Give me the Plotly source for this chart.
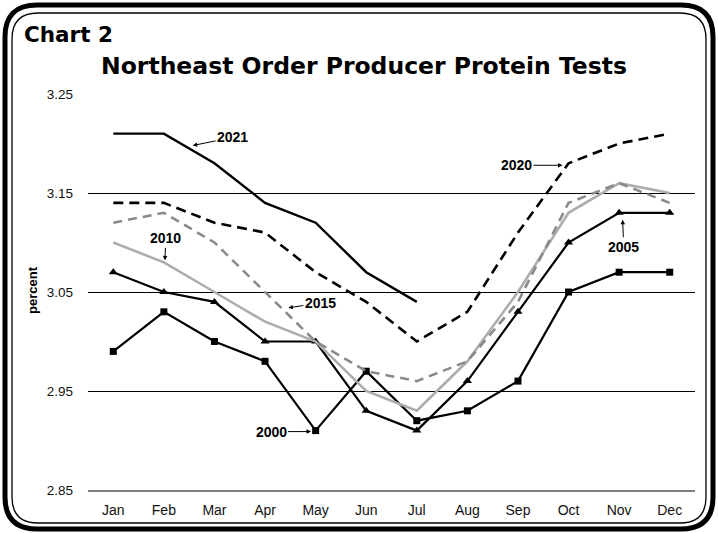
import plotly.graph_objects as go

# ----------- Data -----------
months = ["Jan", "Feb", "Mar", "Apr", "May", "Jun", "Jul", "Aug", "Sep", "Oct", "Nov", "Dec"]

y2021 = [3.21, 3.21, 3.18, 3.14, 3.12, 3.07, 3.04]
y2020 = [3.14, 3.14, 3.12, 3.11, 3.07, 3.04, 3.00, 3.03, 3.11, 3.18, 3.20, 3.21]
y2015 = [3.12, 3.13, 3.10, 3.05, 3.00, 2.97, 2.96, 2.98, 3.04, 3.14, 3.16, 3.14]
y2010 = [3.10, 3.08, 3.05, 3.02, 3.00, 2.95, 2.93, 2.98, 3.05, 3.13, 3.16, 3.15]
y2005 = [3.07, 3.05, 3.04, 3.00, 3.00, 2.93, 2.91, 2.96, 3.03, 3.10, 3.13, 3.13]
y2000 = [2.99, 3.03, 3.00, 2.98, 2.91, 2.97, 2.92, 2.93, 2.96, 3.05, 3.07, 3.07]

y_ticks = [2.85, 2.95, 3.05, 3.15, 3.25]

# ----------- Layout geometry (pixels) -----------
W, H = 718, 533
L, R, T, B = 88, 23, 94, 43
PW, PH = W - L - R, H - T - B

LABEL_FONT = "Liberation Sans, Arial"
TITLE_FONT = "DejaVu Sans"


def to_paper(px, py):
    return (px - L) / PW, (H - B - py) / PH


def rounded_rect(x0, y0, x1, y1, r):
    pts = [
        ("M", [(x0 + r, y0)]),
        ("L", [(x1 - r, y0)]),
        ("Q", [(x1, y0), (x1, y0 + r)]),
        ("L", [(x1, y1 - r)]),
        ("Q", [(x1, y1), (x1 - r, y1)]),
        ("L", [(x0 + r, y1)]),
        ("Q", [(x0, y1), (x0, y1 - r)]),
        ("L", [(x0, y0 + r)]),
        ("Q", [(x0, y0), (x0 + r, y0)]),
    ]
    out = []
    for cmd, ps in pts:
        coords = " ".join("%.5f,%.5f" % to_paper(px, py) for px, py in ps)
        out.append(cmd + coords)
    return " ".join(out) + " Z"


fig = go.Figure()

# ----------- Series -----------
fig.add_trace(go.Scatter(x=months, y=y2000, mode="lines+markers", name="2000",
                         line=dict(color="black", width=2.2),
                         marker=dict(symbol="square", size=7, color="black")))
fig.add_trace(go.Scatter(x=months, y=y2005, mode="lines+markers", name="2005",
                         line=dict(color="black", width=2.2),
                         marker=dict(symbol="triangle-up", size=8, color="black")))
fig.add_trace(go.Scatter(x=months, y=y2010, mode="lines", name="2010",
                         line=dict(color="#adadad", width=2.6)))
fig.add_trace(go.Scatter(x=months, y=y2015, mode="lines", name="2015",
                         line=dict(color="#8a8a8a", width=2.6, dash="9px,6px")))
fig.add_trace(go.Scatter(x=months, y=y2020, mode="lines", name="2020",
                         line=dict(color="black", width=2.6, dash="10px,6px")))
fig.add_trace(go.Scatter(x=months[:len(y2021)], y=y2021, mode="lines", name="2021",
                         line=dict(color="black", width=2.4)))

# ----------- Labels with arrows -----------
labels = [
    ("2021", 1.57, 3.198, 40, -8),
    ("2010", 1.02, 3.082, 1, -22),
    ("2015", 3.46, 3.034, 32, -5),
    ("2000", 3.91, 2.909, -40, 0),
    ("2020", 8.88, 3.178, -46, 0),
    ("2005", 10.07, 3.123, 1, 27),
]
for txt, xi, yv, ax, ay in labels:
    fig.add_annotation(x=xi, y=yv, xref="x", yref="y", text="<b>%s</b>" % txt,
                       showarrow=True, ax=ax, ay=ay, arrowhead=2, arrowsize=0.9,
                       arrowwidth=1, arrowcolor="black",
                       font=dict(family=LABEL_FONT, size=14, color="black"))

# ----------- Titles -----------
fig.add_annotation(text="<b>Chart 2</b>", xref="paper", yref="paper",
                   x=to_paper(22, 0)[0], y=to_paper(0, 35)[1], xanchor="left", yanchor="middle",
                   showarrow=False, font=dict(family=TITLE_FONT, size=21.5, color="black"))
fig.add_annotation(text="<b>Northeast Order Producer Protein Tests</b>", xref="paper", yref="paper",
                   x=to_paper(364, 0)[0], y=to_paper(0, 66)[1], xanchor="center", yanchor="middle",
                   showarrow=False, font=dict(family=TITLE_FONT, size=23.5, color="black"))
fig.add_annotation(text="<b>percent</b>", xref="paper", yref="paper",
                   x=to_paper(32, 0)[0], y=to_paper(0, 290)[1], textangle=-90,
                   xanchor="center", yanchor="middle",
                   showarrow=False, font=dict(family=LABEL_FONT, size=13, color="black"))

# ----------- Frame -----------
fig.add_shape(type="path", xref="paper", yref="paper",
              path=rounded_rect(5, 5, 713, 529, 32), line=dict(color="black", width=5))
fig.add_shape(type="path", xref="paper", yref="paper",
              path=rounded_rect(12, 13, 706, 523, 26), line=dict(color="black", width=1.3))

fig.update_xaxes(type="category", range=[-0.5, 11.5], showgrid=False,
                 showline=True, linecolor="#7f7f7f", linewidth=2, ticks="",
                 ticklabelstandoff=6,
                 tickfont=dict(family=LABEL_FONT, size=14, color="#111"))
fig.update_yaxes(range=[2.85, 3.25], tickvals=y_ticks, tickformat=".2f",
                 showgrid=True, gridcolor="black", gridwidth=1, zeroline=False,
                 showline=False, ticks="", ticklabelstandoff=14,
                 tickfont=dict(family=LABEL_FONT, size=13.5, color="#111"))

fig.update_layout(width=W, height=H, showlegend=False,
                  margin=dict(l=L, r=R, t=T, b=B),
                  plot_bgcolor="white", paper_bgcolor="white")

fig.write_html("out.html", config={"displayModeBar": False},
               post_script="document.body.style.margin='0';")
